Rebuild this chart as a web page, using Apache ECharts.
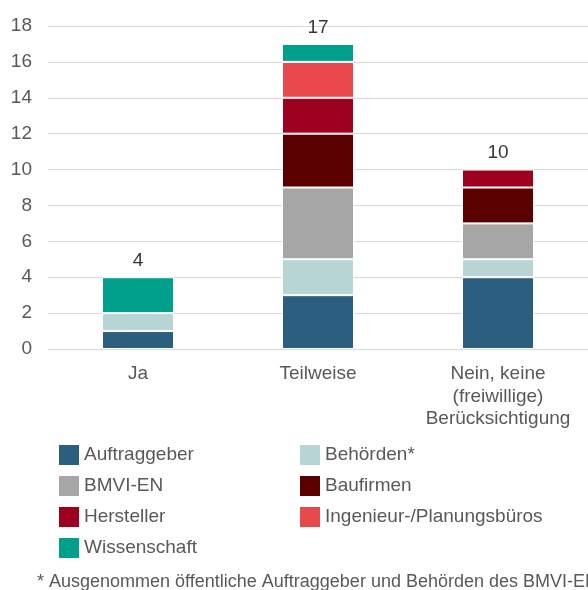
<!DOCTYPE html>
<html>
<head>
<meta charset="utf-8">
<script src="https://cdn.jsdelivr.net/npm/echarts@6/dist/echarts.min.js"></script>
<style>
  html, body { margin: 0; padding: 0; background: #fff; }
  #chart { width: 588px; height: 590px; }
</style>
</head>
<body>
<div id="chart"></div>
<script>
"use strict";

// categories on the x axis
var categories = ["Ja", "Teilweise", "Nein, keine\n(freiwillige)\nBerücksichtigung"];

// stacked series values (per category)
var auftraggeber = [1, 3, 4];
var behoerden = [1, 2, 1];
var bmviEn = [0, 4, 2];
var baufirmen = [0, 3, 2];
var hersteller = [0, 2, 1];
var ingenieur = [0, 2, 0];
var wissenschaft = [2, 1, 0];

var yTicks = [0, 2, 4, 6, 8, 10, 12, 14, 16, 18];

var seriesDefs = [
	{ name: "Auftraggeber", data: auftraggeber, color: "#2b5f80" },
	{ name: "Behörden*", data: behoerden, color: "#b6d5d4" },
	{ name: "BMVI-EN", data: bmviEn, color: "#a6a6a6" },
	{ name: "Baufirmen", data: baufirmen, color: "#5a0000" },
	{ name: "Hersteller", data: hersteller, color: "#9e0020" },
	{ name: "Ingenieur-/Planungsbüros", data: ingenieur, color: "#e8494c" },
	{ name: "Wissenschaft", data: wissenschaft, color: "#00a08a" }
];

// totals for labels on top of each stack
var totals = categories.map(function (c, i) {
	var s = 0;
	seriesDefs.forEach(function (d) { s += d.data[i]; });
	return s;
});

var font = "Liberation Sans, Arial, sans-serif";

var series = seriesDefs.map(function (d) {
	return {
		name: d.name,
		type: "bar",
		stack: "total",
		barWidth: 72,
		itemStyle: { color: d.color, borderColor: "#ffffff", borderWidth: 1 },
		data: d.data.map(function (v) { return v === 0 ? null : v; })
	};
});

series.push({
	name: "Summe",
	type: "scatter",
	symbolSize: 0,
	silent: true,
	data: totals,
	label: {
		show: true,
		position: "top",
		distance: 7,
		color: "#000000",
		fontFamily: font,
		fontSize: 19
	}
});

var legendBase = {
	orient: "vertical",
	icon: "rect",
	itemWidth: 22,
	itemHeight: 22,
	itemGap: 7,
	textStyle: { color: "#595959", fontFamily: font, fontSize: 19, padding: [0, 0, 0, -1] },
	selectedMode: false,
	padding: 0
};

var chart = echarts.init(document.getElementById("chart"));
chart.setOption({
	animation: false,
	backgroundColor: "#ffffff",
	grid: { left: 48, right: -3, top: 26, bottom: 241 },
	xAxis: {
		type: "category",
		data: categories,
		axisLine: { lineStyle: { color: "#d9d9d9", width: 1 } },
		axisTick: { show: false },
		axisLabel: {
			color: "#595959",
			fontFamily: font,
			fontSize: 19,
			lineHeight: 22.5,
			margin: 14,
			interval: 0
		}
	},
	yAxis: {
		type: "value",
		min: yTicks[0],
		max: yTicks[yTicks.length - 1],
		interval: 2,
		axisLine: { show: false },
		axisTick: { show: false },
		splitLine: { lineStyle: { color: "#d9d9d9", width: 1 } },
		axisLabel: {
			color: "#595959",
			fontFamily: font,
			fontSize: 19,
			margin: 16
		}
	},
	legend: [
		Object.assign({}, legendBase, {
			left: 57,
			top: 443,
			data: ["Auftraggeber", "BMVI-EN", "Hersteller", "Wissenschaft"]
		}),
		Object.assign({}, legendBase, {
			left: 298,
			top: 443,
			data: ["Behörden*", "Baufirmen", "Ingenieur-/Planungsbüros"]
		})
	],
	graphic: [{
		type: "text",
		left: 37,
		top: 573,
		style: {
			text: "* Ausgenommen öffentliche Auftraggeber und Behörden des BMVI-EN",
			fill: "#595959",
			font: "18px Liberation Sans, Arial, sans-serif"
		}
	}],
	series: series
});
</script>
</body>
</html>
